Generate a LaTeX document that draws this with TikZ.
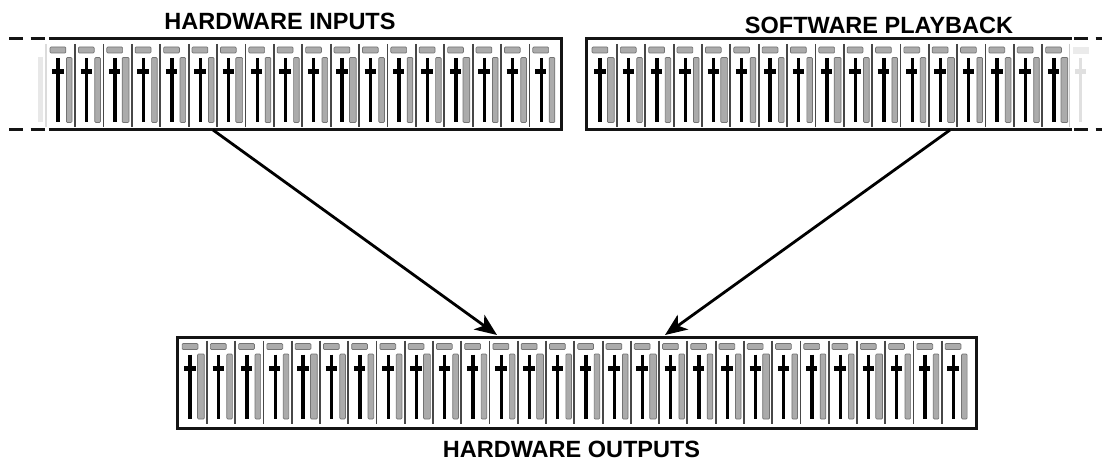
\documentclass[tikz,border=0pt]{standalone}
\usepackage{fontspec}
\setmainfont{Liberation Sans}
\usetikzlibrary{arrows.meta}
\tikzset{
  x=1pt,y=-1pt,
  paneledge/.style={line width=3pt,black!92},
  dashedge/.style={line width=3pt,black!92,dash pattern=on 14pt off 7.5pt},
  divider/.style={line width=1.8pt,black!72},
  capbar/.style={fill=black!33,draw=black!55,line width=.7pt,rounded corners=1pt},
  meterbar/.style={fill=black!33,draw=black!55,line width=.7pt,rounded corners=1pt},
  faderline/.style={black,line width=#1},
  ghost/.style={black!12,line width=#1},
  title/.style={font=\fontsize{23.5}{26}\selectfont\bfseries,inner sep=0pt},
  flow/.style={line width=2.8pt,black,-{Stealth[length=22pt,width=18pt,inset=6pt]}},
}
% x0, y offset, strip count, spacing; meters of every fourth strip from #5 are wide
\newcommand{\mixstrips}[5]{%
  \foreach \i in {1,...,#3}{%
    \pgfmathsetmacro{\xs}{#1+(\i-1)*#4}%
    \pgfmathtruncatemacro{\wide}{mod(\i-#5+400,4)==0 ? 1 : 0}%
    \pgfmathsetmacro{\fw}{mod(\i,2)==1 ? 3.7 : 3}%
    \ifnum\i>1 \draw[divider] (\xs,44+#2) -- (\xs,127+#2);\fi
    \draw[capbar] (\xs+3.4,47+#2) rectangle (\xs+19.2,53+#2);
    \draw[faderline=\fw pt] (\xs+11.6,58+#2) -- (\xs+11.6,122+#2);
    \draw[faderline=5pt] (\xs+5.6,71.6+#2) -- (\xs+17,71.6+#2);
    \ifnum\wide=1
      \draw[meterbar] (\xs+18.8,57.5+#2) rectangle (\xs+25.6,122.5+#2);
    \else
      \draw[meterbar] (\xs+19.8,57.5+#2) rectangle (\xs+25.4,122.5+#2);
    \fi
  }%
}
\begin{document}
\begin{tikzpicture}
\useasboundingbox (0,0) rectangle (1102,462);
\fill[white] (0,0) rectangle (1102,462);

% titles
\node[title] (hwinlabel) at (280,21) {HARDWARE INPUTS};
\node[title] (swlabel) at (879,25) {SOFTWARE PLAYBACK};
\node[title] (hwoutlabel) at (571.5,449) {HARDWARE OUTPUTS};

% hardware inputs
\mixstrips{46.6}{0}{18}{28.4}{3}
\draw[paneledge] (49,39) -- (561,39) -- (561,129.5) -- (49,129.5);
\draw[dashedge] (9,39) -- (45,39);
\draw[dashedge] (9,129.5) -- (45,129.5);
\draw[black!14,line width=1.5pt] (46,44) -- (46,127);
\draw[black!9,line width=5pt] (40,57) -- (40,122);

% software playback
\mixstrips{588.6}{0}{17}{28.35}{1}
\draw[paneledge] (1071.5,39) -- (586,39) -- (586,129.5) -- (1071.5,129.5);
\draw[dashedge] (1074,39) -- (1102,39);
\draw[dashedge] (1074,129.5) -- (1102,129.5);
\draw[black!20,line width=1.5pt] (1069.5,44) -- (1069.5,127);
\draw[black!8,fill=black!8] (1073,47) rectangle (1088,53);
\draw[ghost=2.2pt] (1080.5,58) -- (1080.5,122);
\draw[ghost=4.5pt] (1075,71.6) -- (1086,71.6);

% hardware outputs
\mixstrips{178.7}{296.5}{28}{28.26}{1}
\node[draw=black!92,line width=3pt,minimum width=799.5pt,minimum height=91.2pt,inner sep=0pt,anchor=north west] (hwout) at (175.5,335.5) {};

% connectors
\coordinate (hwinout) at (213,130);
\coordinate (swout) at (950,130);
\coordinate (hwoutA) at (497,335);
\coordinate (hwoutB) at (665,335);
\draw[flow] (hwinout) -- (hwoutA);
\draw[flow] (swout) -- (hwoutB);
\end{tikzpicture}
\end{document}
